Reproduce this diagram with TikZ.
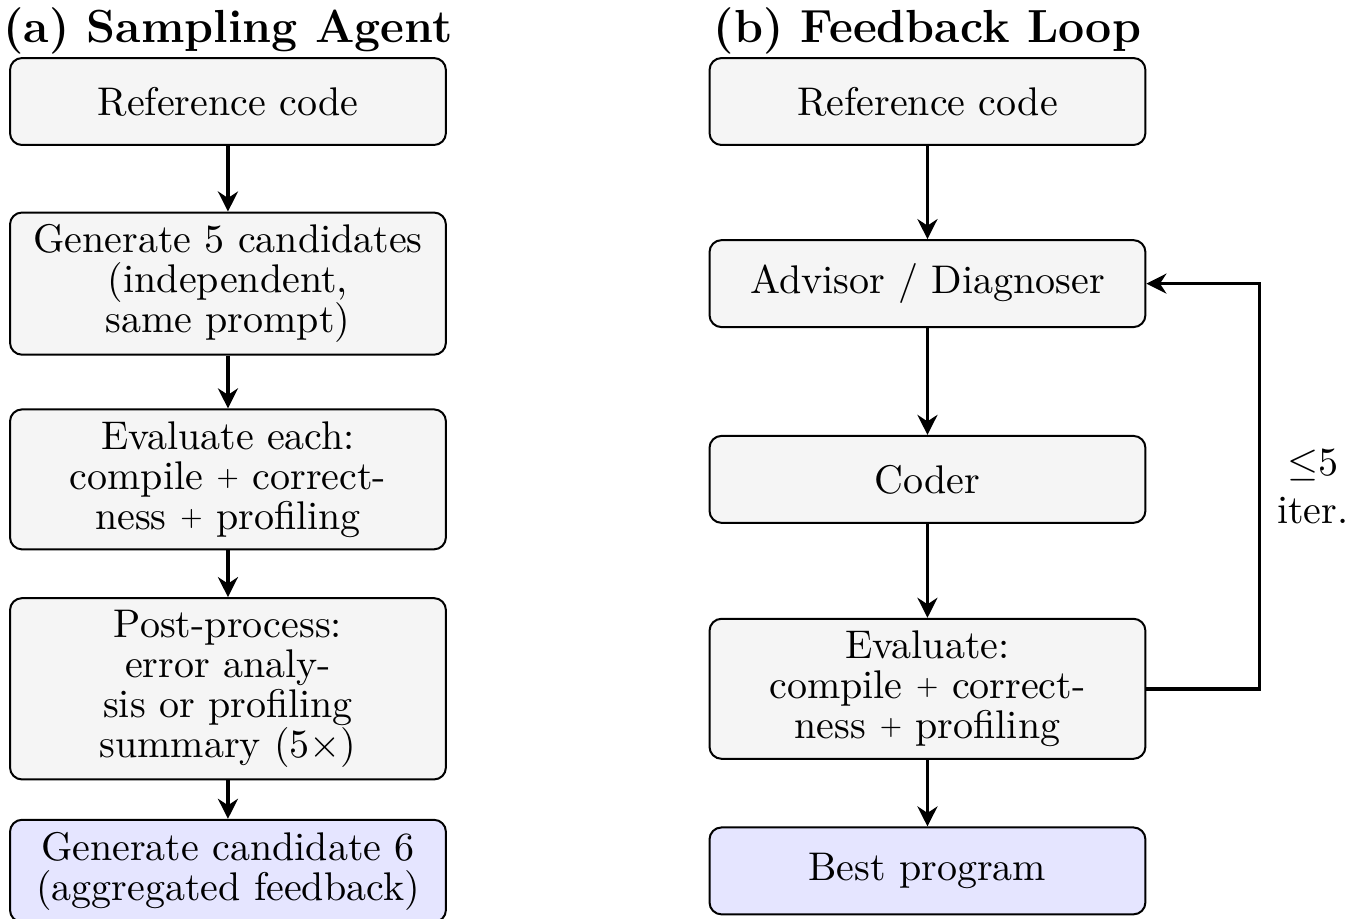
\documentclass[tikz,border=0pt]{standalone}
\usepackage{amsmath}
\usetikzlibrary{arrows.meta,positioning}

\newcommand{\smallplus}{\raisebox{0.9pt}{\fontsize{6.5}{6.5}\selectfont +}}

\begin{document}
\begin{tikzpicture}[
    stage/.style={draw, rounded corners=3pt, fill=gray!8, line width=0.5pt,
                  minimum width=3.83cm, minimum height=0.764cm, align=center,
                  inner sep=3pt, font=\fontsize{10}{10}\selectfont},
    best/.style={stage, fill=blue!10},
    flow/.style={-{Stealth[length=5pt,width=5pt]}, line width=0.9pt},
    title/.style={font=\fontsize{11.6}{14}\selectfont\bfseries, inner sep=0pt}
  ]
    \useasboundingbox (-2.003,0.892) rectangle (9.955,-7.174);

    % (a) sampling agent
    \node[stage] (refa) at (0,0)     {Reference code};
    \node[stage] (gen5) at (0,-1.6)  {Generate 5 candidates\\(independent,\\same prompt)};
    \node[stage] (evala) at (0,-3.32) {Evaluate each:\\compile \smallplus{} correct-\\ness \smallplus{} profiling};
    \node[stage] (post) at (0,-5.16) {Post-process:\\error analy-\\sis or profiling\\summary (5$\times$)};
    \node[best]  (gen6) at (0,-6.76) {Generate candidate 6\\(aggregated feedback)};
    \node[title, above=3.75pt of refa, anchor=base] (ta) {(a) Sampling Agent};

    \draw[flow] (refa) -- (gen5);
    \draw[flow] (gen5) -- (evala);
    \draw[flow] (evala) -- (post);
    \draw[flow] (post) -- (gen6);

    % (b) feedback loop
    \node[stage] (refb) at (6.146,0)     {Reference code};
    \node[stage] (adv)  at (6.146,-1.6)  {Advisor / Diagnoser};
    \node[stage] (coder) at (6.146,-3.32) {Coder};
    \node[stage] (evalb) at (6.146,-5.16) {Evaluate:\\compile \smallplus{} correct-\\ness \smallplus{} profiling};
    \node[best]  (bestp) at (6.146,-6.76) {Best program};
    \node[title, above=3.75pt of refb, anchor=base] (tb) {(b) Feedback Loop};

    \draw[flow] (refb) -- (adv);
    \draw[flow] (adv) -- (coder);
    \draw[flow] (coder) -- (evalb);
    \draw[flow] (evalb) -- (bestp);
    \draw[flow] (evalb.east) -- ++(0.993,0)
        |- node[pos=0.25, right, align=center, inner sep=4pt] {$\leq$5\\iter.} (adv.east);
\end{tikzpicture}
\end{document}
